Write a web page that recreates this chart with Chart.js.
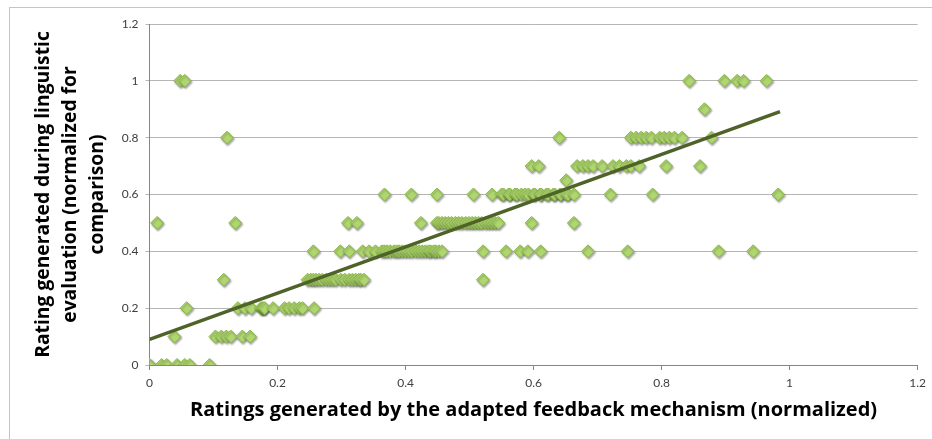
<!DOCTYPE html>
<html lang="en">
<head>
    <meta charset="UTF-8" />
    <title>Ratings scatter</title>
    <script src="https://cdn.jsdelivr.net/npm/chart.js"></script>
    <style>
        body {
            margin: 0;
            background: #ffffff;
            overflow: hidden;
        }

        .frame {
            position: absolute;
            left: 9px;
            top: 7px;
            width: 1000px;
            height: 600px;
            border: 1px solid #c4c4c4;
        }

        .wrap {
            position: absolute;
            left: 0;
            top: 0;
            width: 932px;
            height: 439px;
        }
    </style>
</head>
<body>
    <div class="frame"></div>
    <div class="wrap"><canvas id="ratingsChart" width="932" height="439"></canvas></div>

    <script>
        // x positions (adapted feedback rating) of points, grouped by their linguistic rating
        const level00 = [0, 0, 0, 0.019, 0.027, 0.043, 0.055, 0.063, 0.094];
        const level01 = [0.039, 0.103, 0.112, 0.120, 0.127, 0.145, 0.157];
        const level02 = [0.058, 0.138, 0.149, 0.159, 0.174, 0.176, 0.178, 0.180, 0.193, 0.211,
                         0.218, 0.226, 0.234, 0.239, 0.257];
        const level03 = [0.116, 0.247, 0.252, 0.256, 0.260, 0.265, 0.270, 0.276, 0.281, 0.286,
                         0.291, 0.299, 0.305, 0.312, 0.317, 0.322, 0.327, 0.330, 0.335, 0.521];
        const level04 = [0.256, 0.298, 0.312, 0.333, 0.343, 0.353, 0.363, 0.367, 0.371, 0.376,
                         0.382, 0.386, 0.390, 0.395, 0.400, 0.405, 0.410, 0.416, 0.421, 0.426,
                         0.431, 0.436, 0.439, 0.444, 0.447, 0.452, 0.457, 0.521, 0.557, 0.579,
                         0.591, 0.611, 0.685, 0.747, 0.889, 0.943];
        const level05 = [0.012, 0.134, 0.310, 0.324, 0.424, 0.449, 0.452, 0.457, 0.462, 0.467,
                         0.472, 0.478, 0.483, 0.488, 0.494, 0.499, 0.504, 0.509, 0.514, 0.519,
                         0.525, 0.530, 0.535, 0.540, 0.545, 0.597, 0.663];
        const level06 = [0.367, 0.409, 0.449, 0.506, 0.535, 0.550, 0.553, 0.561, 0.563, 0.571,
                         0.574, 0.581, 0.587, 0.592, 0.600, 0.602, 0.610, 0.612, 0.620, 0.623,
                         0.631, 0.633, 0.641, 0.643, 0.651, 0.654, 0.663, 0.720, 0.786, 0.982];
        const level065 = [0.651];
        const level07 = [0.597, 0.608, 0.668, 0.677, 0.685, 0.693, 0.707, 0.724, 0.734, 0.745,
                         0.752, 0.765, 0.807, 0.860];
        const level08 = [0.121, 0.640, 0.752, 0.760, 0.768, 0.776, 0.784, 0.797, 0.804, 0.812,
                         0.820, 0.832, 0.878];
        const level09 = [0.867];
        const level10 = [0.048, 0.055, 0.843, 0.898, 0.918, 0.928, 0.964];

        const levelValues = [0, 0.1, 0.2, 0.3, 0.4, 0.5, 0.6, 0.65, 0.7, 0.8, 0.9, 1.0];
        const levelXs = [level00, level01, level02, level03, level04, level05, level06,
                         level065, level07, level08, level09, level10];

        // linear trend line end points
        const trendX = [0, 0.985];
        const trendY = [0.09, 0.892];

        const axisTicks = [0, 0.2, 0.4, 0.6, 0.8, 1, 1.2];
        const axisTickLabels = ['0', '0.2', '0.4', '0.6', '0.8', '1', '1.2'];

        const points = [];
        levelXs.forEach((xs, i) => {
            xs.forEach(x => points.push({ x: x, y: levelValues[i] }));
        });
        const trend = trendX.map((x, i) => ({ x: x, y: trendY[i] }));

        const tickFont = 'Lato, "Open Sans", sans-serif';
        const titleFont = '"Open Sans", Lato, sans-serif';

        // soft drop shadow under the diamonds, like the spreadsheet original
        const markerShadow = {
            id: 'markerShadow',
            beforeDatasetDraw(chart, args) {
                if (args.index !== 1) return;
                const ctx = chart.ctx;
                ctx.save();
                ctx.shadowColor = 'rgba(0,0,0,0.35)';
                ctx.shadowOffsetX = 1;
                ctx.shadowOffsetY = 1.5;
                ctx.shadowBlur = 2;
            },
            afterDatasetDraw(chart, args) {
                if (args.index !== 1) return;
                chart.ctx.restore();
            }
        };

        function tickLabel(value, index) {
            return axisTickLabels[index];
        }

        new Chart(document.getElementById('ratingsChart'), {
            type: 'scatter',
            data: {
                datasets: [{
                    type: 'line',
                    label: 'Trend',
                    data: trend,
                    borderColor: '#4f6228',
                    borderWidth: 3.5,
                    pointRadius: 0,
                    fill: false
                }, {
                    label: 'Ratings',
                    data: points,
                    pointStyle: 'rectRot',
                    pointRadius: 6.5,
                    backgroundColor: '#b0d670',
                    borderColor: '#8ab84a',
                    borderWidth: 1
                }]
            },
            options: {
                responsive: false,
                animation: false,
                layout: {
                    padding: { left: 16, right: 13.5, top: 24, bottom: 0 }
                },
                plugins: {
                    legend: { display: false },
                    tooltip: { enabled: false }
                },
                scales: {
                    x: {
                        type: 'linear',
                        min: 0,
                        max: 1.2,
                        afterBuildTicks: scale => {
                            scale.ticks = axisTicks.map(v => ({ value: v }));
                        },
                        afterFit: scale => { scale.height = 74; },
                        grid: {
                            drawOnChartArea: false,
                            drawTicks: true,
                            tickLength: 5,
                            color: '#868686'
                        },
                        border: { color: '#868686', width: 1 },
                        ticks: {
                            padding: 6,
                            color: '#404040',
                            font: { family: tickFont, size: 12 },
                            maxRotation: 0,
                            callback: tickLabel
                        },
                        title: {
                            display: true,
                            text: 'Ratings generated by the adapted feedback mechanism (normalized)',
                            color: '#000000',
                            font: { family: titleFont, size: 20, weight: 'bold', lineHeight: 1.35 },
                            padding: { top: 0, bottom: 15.5 }
                        }
                    },
                    y: {
                        type: 'linear',
                        min: 0,
                        max: 1.2,
                        afterBuildTicks: scale => {
                            scale.ticks = axisTicks.map(v => ({ value: v }));
                        },
                        afterFit: scale => { scale.width = 133.5; },
                        grid: {
                            color: '#b5b5b5',
                            tickLength: 4,
                            lineWidth: 1
                        },
                        border: { color: '#868686', width: 1 },
                        ticks: {
                            padding: 7,
                            color: '#404040',
                            font: { family: tickFont, size: 12 },
                            callback: tickLabel
                        },
                        title: {
                            display: true,
                            text: ['Rating generated during linguistic',
                                   'evaluation (normalized for',
                                   'comparison)'],
                            color: '#000000',
                            font: { family: titleFont, size: 19.3, weight: 'bold', lineHeight: 1.4 },
                            padding: { top: 13.5, bottom: 0 }
                        }
                    }
                }
            },
            plugins: [markerShadow]
        });
    </script>
</body>
</html>
